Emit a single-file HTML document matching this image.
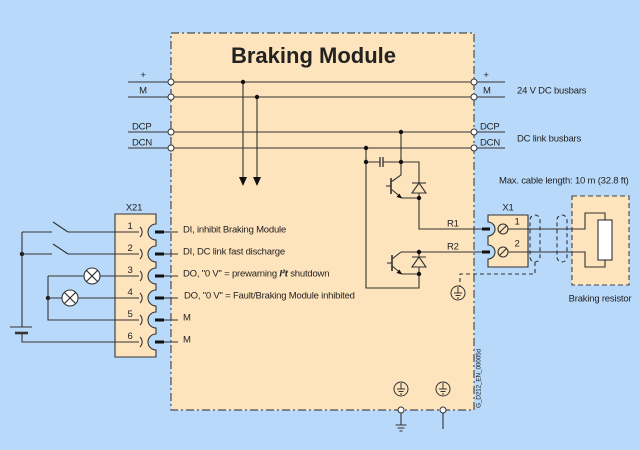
<!DOCTYPE html>
<html><head><meta charset="utf-8">
<style>
html,body{margin:0;padding:0;background:#b9d9fa;}
svg{display:block;}
text{font-family:"Liberation Sans",Arial,sans-serif;font-size:9.5px;fill:#222;letter-spacing:-0.2px;}
</style></head><body>
<svg width="640" height="450" viewBox="0 0 640 450" xmlns="http://www.w3.org/2000/svg">
<rect width="640" height="450" fill="#b9d9fa"/>
<!-- main box -->
<rect x="171" y="33" width="303" height="377" fill="#fee4bc" stroke="#4d4d4d" stroke-width="1.2" stroke-dasharray="8 3 2 3"/>
<text x="313.5" y="63" text-anchor="middle" style="font-size:22px;font-weight:bold;letter-spacing:0" fill="#111">Braking Module</text>

<g stroke="#333" stroke-width="1.1" fill="none">
  <!-- busbars -->
  <path d="M128,82 H505 M128,97 H505 M128,132 H505 M128,148 H505"/>
  <!-- arrows -->
  <path d="M243,82 V178 M257,97 V178"/>
  <!-- right circuit -->
  <path d="M401,132 V175 L391,182"/>
  <path d="M391,178 V194" stroke-width="1.6"/>
  <path d="M386,186 H391"/>
  <path d="M391,189 L402,198 H419"/>
  <path d="M366,162 H380 M383,162 H401 M401,162 H419 V183"/>
  <path d="M380,157 V167 M383,157 V167" stroke-width="1.3"/>
  <path d="M412,183 H426"/>
  <path d="M419,193 V229 H482"/>
  <path d="M401,252 H482"/>
  <path d="M401,252 L392,259"/>
  <path d="M392,255 V271" stroke-width="1.6"/>
  <path d="M387,263 H392"/>
  <path d="M392,266 L402,274 H419"/>
  <path d="M419,252 V257 M412,257 H426 M419,267 V288 H366 V148"/>
  <!-- pins into X1 -->
  <path d="M482,229 H490 M482,252 H490" stroke-width="3" stroke="#111"/>
  <!-- X1 wires -->
  <path d="M503,229 H572 M503,252 H572"/>
  <!-- resistor wires -->
  <path d="M572,229 H585 V213 H605 V220 M572,252 H585 V267 H605 V260"/>
  <!-- ground under box -->
  <path d="M401,413 V425 M395.5,425 H406.5 M397.5,428 H404.5 M399.5,431 H402.5 M443,413 V429"/>
</g>
<!-- diodes -->
<g stroke="#333" stroke-width="1.1" fill="#fee4bc">
  <polygon points="419,183 412,193 426,193"/>
  <polygon points="419,257 412,267 426,267"/>
</g>
<!-- arrowheads -->
<g fill="#111">
  <polygon points="239,177 247,177 243,186"/>
  <polygon points="253,177 261,177 257,186"/>
  <polygon points="402,198.5 396.5,197 399.5,193.5"/>
  <polygon points="402,274.5 396.5,273 399.5,269.5"/>
  <circle cx="243" cy="82" r="2.2"/>
  <circle cx="257" cy="97" r="2.2"/>
  <circle cx="401" cy="132" r="2.2"/>
  <circle cx="366" cy="148" r="2.2"/>
  <circle cx="366" cy="162" r="2.2"/>
  <circle cx="401" cy="162" r="2.2"/>
  <circle cx="419" cy="198" r="2.2"/>
  <circle cx="419" cy="252" r="2.2"/>
  <circle cx="419" cy="274" r="2.2"/>
  <circle cx="22" cy="254" r="2.2"/>
  <circle cx="48" cy="298" r="2.2"/>
</g>
<!-- bus terminals -->
<g fill="#fff" stroke="#333" stroke-width="1">
  <circle cx="171" cy="82" r="3"/><circle cx="171" cy="97" r="3"/>
  <circle cx="171" cy="132" r="3"/><circle cx="171" cy="148" r="3"/>
  <circle cx="474" cy="82" r="3"/><circle cx="474" cy="97" r="3"/>
  <circle cx="474" cy="132" r="3"/><circle cx="474" cy="148" r="3"/>
  <circle cx="401" cy="410" r="3"/><circle cx="443" cy="410" r="3"/>
</g>
<!-- earth symbols in circles -->
<g stroke="#333" stroke-width="1" fill="none">
  <circle cx="401" cy="389" r="7" fill="#fee4bc"/>
  <path d="M401,383 V389 M397,389 H405 M398.5,391.5 H403.5 M400,394 H402"/>
  <circle cx="443" cy="389" r="7" fill="#fee4bc"/>
  <path d="M443,383 V389 M439,389 H447 M440.5,391.5 H445.5 M442,394 H444"/>
  <circle cx="458" cy="293" r="7" fill="#fee4bc"/>
  <path d="M458,287 V293 M454,293 H462 M455.5,295.5 H460.5 M457,298 H459"/>
</g>

<!-- labels busbars -->
<text x="143" y="78" text-anchor="middle">+</text>
<text x="143" y="93.5" text-anchor="middle">M</text>
<text x="132" y="129.5">DCP</text>
<text x="132" y="145.5">DCN</text>
<text x="486" y="78" text-anchor="middle">+</text>
<text x="483" y="93.5">M</text>
<text x="480" y="129.5">DCP</text>
<text x="480" y="145.5">DCN</text>
<text x="517" y="93.5">24 V DC busbars</text>
<text x="517" y="141.5">DC link busbars</text>
<text x="499" y="183.5">Max. cable length: 10 m (32.8 ft)</text>
<text x="447" y="226.5">R1</text>
<text x="447" y="249.5">R2</text>

<!-- X1 -->
<path d="M488,215 H528 V267 H488 V259 A7,7 0 0 0 488,245 V236 A7,7 0 0 0 488,222 Z" fill="#fee4bc" stroke="#333" stroke-width="1.1"/>
<path d="M503,229 H528 M503,252 H528" stroke="#333" stroke-width="1.1"/>
<g stroke="#333" stroke-width="1.1" fill="#fee4bc">
  <circle cx="503" cy="229" r="5"/>
  <circle cx="503" cy="252" r="5"/>
</g>
<path d="M499.5,232.5 L506.5,225.5 M499.5,255.5 L506.5,248.5" stroke="#333" stroke-width="1.1"/>
<text x="508" y="210.5" text-anchor="middle">X1</text>
<text x="517" y="224.5" text-anchor="middle">1</text>
<text x="517" y="246.5" text-anchor="middle">2</text>

<!-- shields -->
<g stroke="#333" stroke-width="1.1" fill="none" stroke-dasharray="4 3">
  <rect x="530" y="215" width="10" height="47" rx="5"/>
  <rect x="557" y="215" width="10" height="47" rx="5"/>
  <path d="M535,262 V274 H460 V286"/>
</g>

<!-- braking resistor -->
<rect x="572" y="196" width="57" height="89" fill="#fee4bc" stroke="#444" stroke-width="1.1" stroke-dasharray="5 3"/>
<path d="M572,229 H585 V213 H605 V220 M572,252 H585 V267 H605 V260" stroke="#333" stroke-width="1.1" fill="none"/>
<rect x="598" y="220" width="14" height="40" fill="#fff" stroke="#333" stroke-width="1.1"/>
<text x="600" y="301.5" text-anchor="middle">Braking resistor</text>

<!-- X21 -->
<path d="M115,214 H156 V224 A8,8 0 0 0 156,240 V246 A8,8 0 0 0 156,262 V268 A8,8 0 0 0 156,284 V290 A8,8 0 0 0 156,306 V312 A8,8 0 0 0 156,328 V334 A8,8 0 0 0 156,350 V357 H115 Z" fill="#fee4bc" stroke="#333" stroke-width="1.1"/>
<text x="134" y="210.5" text-anchor="middle">X21</text>
<g stroke="#333" stroke-width="1.1" fill="none">
  <!-- sockets -->
  <path d="M140,227 A7,7 0 0 1 140,237 M140,249 A7,7 0 0 1 140,259 M140,271 A7,7 0 0 1 140,281 M140,293 A7,7 0 0 1 140,303 M140,315 A7,7 0 0 1 140,325 M140,337 A7,7 0 0 1 140,347"/>
  <!-- thin lines from pins -->
  <path d="M164,232 H178 M164,254 H178 M164,276 H178 M164,298 H178 M164,320 H178 M164,342 H178"/>
  <!-- left wiring -->
  <path d="M22,232 V327 M22,333 V342 H139"/>
  <path d="M22,232 H52 M53,222 L68,232 M68,232 H139"/>
  <path d="M22,254 H52 M53,244 L68,254 M68,254 H139"/>
  <path d="M48,276 V320 H139"/>
  <path d="M48,276 H84 M100,276 H139"/>
  <path d="M48,298 H62 M78,298 H139"/>
  <path d="M10,327 H32"/>
  <path d="M15,333 H28" stroke-width="2.6"/>
  <!-- lamps -->
  <circle cx="92" cy="276" r="8" fill="#fff"/>
  <path d="M86.3,270.3 L97.7,281.7 M97.7,270.3 L86.3,281.7"/>
  <circle cx="70" cy="298" r="8" fill="#fff"/>
  <path d="M64.3,292.3 L75.7,303.7 M75.7,292.3 L64.3,303.7"/>
</g>
<path d="M155,232 H164 M155,254 H164 M155,276 H164 M155,298 H164 M155,320 H164 M155,342 H164" stroke="#111" stroke-width="3"/>
<g text-anchor="middle">
  <text x="130" y="229">1</text>
  <text x="130" y="251">2</text>
  <text x="130" y="273">3</text>
  <text x="130" y="295">4</text>
  <text x="130" y="317">5</text>
  <text x="130" y="339">6</text>
</g>
<text x="183" y="232.5">DI, inhibit Braking Module</text>
<text x="183" y="254.5">DI, DC link fast discharge</text>
<text x="183" y="276.5">DO, "0 V" = prewarning <tspan font-weight="bold" font-style="italic">I²t</tspan> shutdown</text>
<text x="184" y="298.5">DO, "0 V" = Fault/Braking Module inhibited</text>
<text x="183" y="320.5">M</text>
<text x="183" y="342.5">M</text>

<text transform="translate(480.5,408) rotate(-90)" style="font-size:6.5px;letter-spacing:-0.2px">G_D212_EN_00005d</text>
</svg>
</body></html>
